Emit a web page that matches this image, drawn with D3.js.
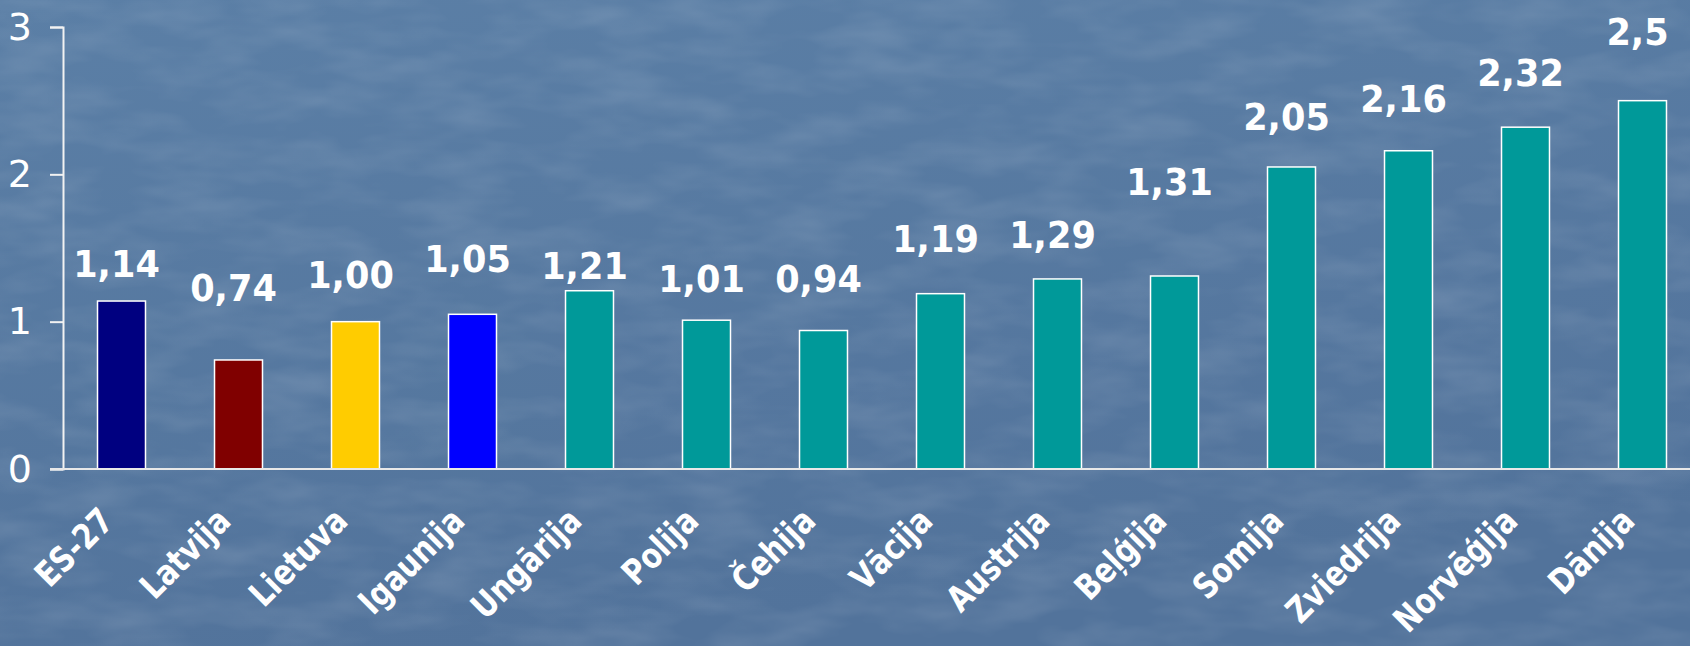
<!DOCTYPE html>
<html>
<head>
<meta charset="utf-8">
<script src="https://cdn.jsdelivr.net/npm/d3@7"></script>
<style>
  html, body { margin: 0; padding: 0; background: #587ba2; }
  svg { display: block; }
</style>
</head>
<body>
<svg id="chart"></svg>
<script>
const categories = ["ES-27", "Latvija", "Lietuva", "Igaunija", "Ungārija", "Polija", "Čehija",
  "Vācija", "Austrija", "Beļģija", "Somija", "Zviedrija", "Norvēģija", "Dānija"];
const values = [1.14, 0.74, 1.00, 1.05, 1.21, 1.01, 0.94, 1.19, 1.29, 1.31, 2.05, 2.16, 2.32, 2.5];
const valueLabels = ["1,14", "0,74", "1,00", "1,05", "1,21", "1,01", "0,94", "1,19", "1,29", "1,31",
  "2,05", "2,16", "2,32", "2,5"];
// height (in axis units) where each data label sits, as placed in the original slide
const labelLevels = [1.30, 1.14, 1.23, 1.34, 1.29, 1.20, 1.20, 1.47, 1.50, 1.86, 2.30, 2.42, 2.60, 2.88];
const yTicks = [0, 1, 2, 3];

const barColors = {
  "ES-27": "#000080",
  "Latvija": "#800000",
  "Lietuva": "#ffcc00",
  "Igaunija": "#0000ff"
};
const defaultColor = "#009999";

const width = 1690, height = 646;
const margin = { top: 27, left: 63, bottom: 177 };

const svg = d3.select("#chart")
    .attr("width", width)
    .attr("height", height);

// textured slide background
const defs = svg.append("defs");
const grad = defs.append("linearGradient")
    .attr("id", "bg").attr("x1", 0).attr("y1", 0).attr("x2", 0.3).attr("y2", 1);
grad.append("stop").attr("offset", "0%").attr("stop-color", "#5b7fa6");
grad.append("stop").attr("offset", "100%").attr("stop-color", "#52739b");

const filt = defs.append("filter").attr("id", "grain")
    .attr("x", 0).attr("y", 0).attr("width", "100%").attr("height", "100%");
filt.append("feTurbulence")
    .attr("type", "fractalNoise")
    .attr("baseFrequency", "0.012 0.035")
    .attr("numOctaves", 3)
    .attr("seed", 7);
filt.append("feColorMatrix")
    .attr("type", "matrix")
    .attr("values", "0 0 0 0 1  0 0 0 0 1  0 0 0 0 1  1.2 0 0 0 -0.45");

svg.append("rect").attr("width", width).attr("height", height).attr("fill", "url(#bg)");
svg.append("rect").attr("width", width).attr("height", height)
    .attr("filter", "url(#grain)").attr("opacity", 0.17);

const x = d3.scaleBand()
    .domain(categories)
    .range([margin.left, margin.left + categories.length * 117])
    .paddingInner(0.59)
    .paddingOuter(0.295);

const y = d3.scaleLinear()
    .domain([0, 3])
    .range([height - margin.bottom, margin.top]);

// y axis
const yAxis = svg.append("g")
    .attr("transform", `translate(${margin.left},0)`)
    .call(d3.axisLeft(y).tickValues(yTicks).tickSize(13).tickPadding(18).tickFormat(d3.format("d")));
yAxis.select(".domain").attr("stroke", "#f2f2f2").attr("stroke-width", 2);
yAxis.selectAll(".tick line").attr("stroke", "#f2f2f2").attr("stroke-width", 2);
yAxis.selectAll(".tick text")
    .attr("fill", "#ffffff")
    .style("font", "38px 'DejaVu Sans', Verdana, sans-serif");

// bars
svg.append("g")
  .selectAll("rect")
  .data(values)
  .join("rect")
    .attr("x", (d, i) => x(categories[i]))
    .attr("y", d => y(d))
    .attr("width", x.bandwidth())
    .attr("height", d => y(0) - y(d))
    .attr("fill", (d, i) => barColors[categories[i]] || defaultColor)
    .attr("stroke", "#ffffff")
    .attr("stroke-width", 1.5);

// x axis baseline
svg.append("line")
    .attr("x1", margin.left - 13)
    .attr("x2", width)
    .attr("y1", y(0))
    .attr("y2", y(0))
    .attr("stroke", "#e8e8e8")
    .attr("stroke-width", 2);

// value labels (narrowed a bit to mimic Tahoma Bold)
svg.append("g")
    .attr("text-anchor", "middle")
    .style("font", "bold 37px 'DejaVu Sans', Verdana, sans-serif")
    .attr("fill", "#ffffff")
  .selectAll("text")
  .data(valueLabels)
  .join("text")
    .attr("transform", (d, i) =>
      `translate(${x(categories[i]) + x.bandwidth() / 2 - 5},${y(labelLevels[i])}) scale(0.95,1)`)
    .text(d => d);

// category labels, rotated
svg.append("g")
    .attr("text-anchor", "end")
    .style("font", "bold 35px 'DejaVu Sans', Verdana, sans-serif")
    .attr("fill", "#ffffff")
  .selectAll("text")
  .data(categories)
  .join("text")
    .attr("transform", d =>
      `translate(${x(d) + x.bandwidth() / 2 - 6},${y(0) + 54}) rotate(-45) scale(0.83,1)`)
    .text(d => d);
</script>
</body>
</html>
